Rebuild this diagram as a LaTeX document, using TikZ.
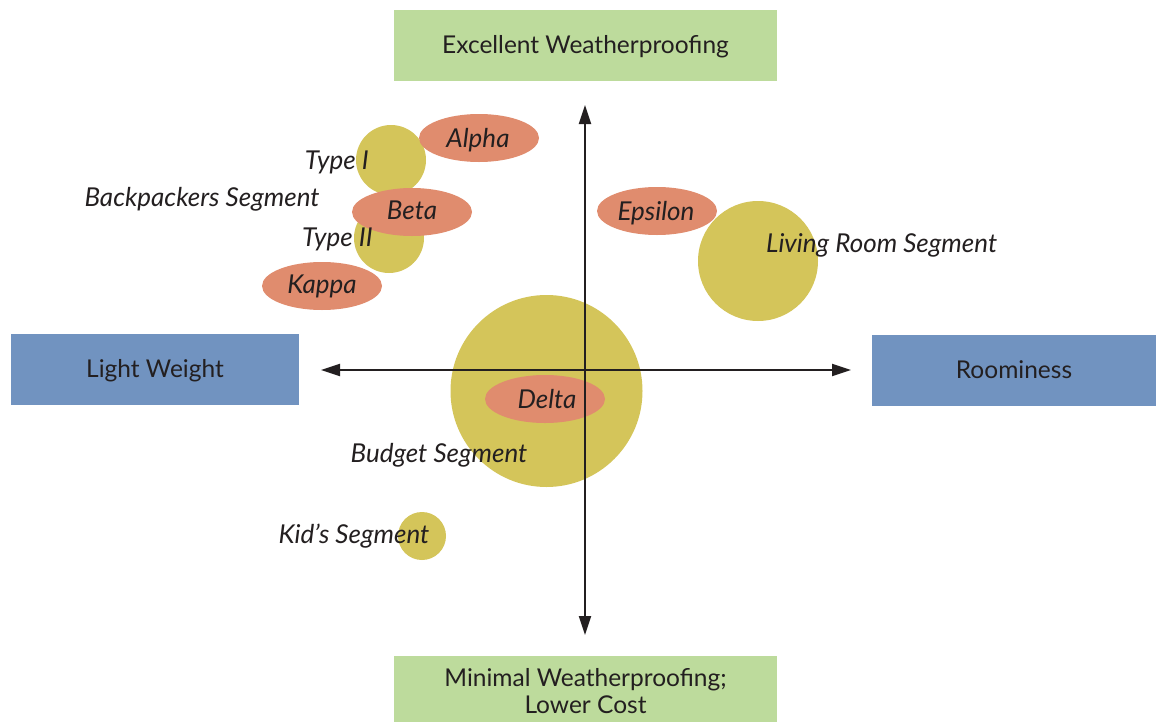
\documentclass[tikz,border=0pt]{standalone}
\usepackage{fontspec}
\setmainfont{Lato}
\usetikzlibrary{arrows.meta,shapes.geometric}
\definecolor{boxgreen}{HTML}{BDDB9C}
\definecolor{boxblue}{HTML}{7193C0}
\definecolor{segyellow}{HTML}{D4C55A}
\definecolor{prodsalmon}{HTML}{E08C6E}
\definecolor{ink}{HTML}{231F20}
\tikzset{
  every node/.style={text=ink},
  boxfont/.style={font=\fontsize{24.5}{27}\selectfont},
  itfont/.style={font=\fontsize{26}{30}\selectfont\itshape},
  greenbox/.style={fill=boxgreen, minimum width=383pt, inner sep=0pt, align=center, boxfont},
  bluebox/.style={fill=boxblue, minimum height=71pt, inner sep=0pt, align=center, boxfont},
  segment/.style={circle, fill=segyellow, inner sep=0pt},
  product/.style={ellipse, fill=prodsalmon, minimum width=120pt, minimum height=48pt, inner sep=0pt},
  prodtext/.style={itfont, inner sep=0pt, anchor=base},
  seglabel/.style={itfont, inner sep=0pt},
  axis/.style={draw=ink, line width=2pt, {Triangle[length=19pt,width=12pt]}-{Triangle[length=19pt,width=12pt]}}
}
\begin{document}
\begin{tikzpicture}[x=1pt,y=-1pt]
\useasboundingbox (0,0) rectangle (1157,723);
% boxes
\node[greenbox, minimum height=71pt] (top) at (585.5,45.5) {};
\node[boxfont, inner sep=0pt, anchor=base] (toptext) at (585.5,53.5) {Excellent Weatherproofing};
\node[greenbox, minimum height=66pt] (bottom) at (585.5,689) {};
\node[boxfont, inner sep=0pt, anchor=base] (bottext1) at (585.5,686) {Minimal Weatherproofing;};
\node[boxfont, inner sep=0pt, anchor=base] (bottext2) at (585.5,713) {Lower Cost};
\node[bluebox, minimum width=288pt] (left) at (155,369.5) {};
\node[boxfont, inner sep=0pt, anchor=base] (lefttext) at (155,377) {Light Weight};
\node[bluebox, minimum width=284pt] (right) at (1014,370.5) {};
\node[boxfont, inner sep=0pt, anchor=base] (righttext) at (1014,378) {Roominess};
% segments
\node[segment, minimum size=70pt] (type1) at (391,160) {};
\node[segment, minimum size=70pt] (type2) at (389,238) {};
\node[segment, minimum size=192pt] (budget) at (546.5,391) {};
\node[segment, minimum size=120pt] (living) at (758,261) {};
\node[segment, minimum size=48pt] (kids) at (422,536) {};
% products
\node[product] (alpha) at (479,138) {};
\node[product] (beta) at (412,212) {};
\node[product] (kappa) at (322,286) {};
\node[product] (delta) at (545,399) {};
\node[product] (epsilon) at (657,211) {};
\node[prodtext] (alphat) at (478,147) {Alpha};
\node[prodtext] (betat) at (412,219) {Beta};
\node[prodtext] (kappat) at (322,293) {Kappa};
\node[prodtext] (deltat) at (547,408) {Delta};
\node[prodtext] (epsilont) at (656,220) {Epsilon};
% axes
\coordinate (ytop) at (585,105);
\coordinate (ybot) at (585,635);
\coordinate (xleft) at (321,370);
\coordinate (xright) at (851,370);
\draw[axis] (ytop) -- (ybot);
\draw[axis] (xleft) -- (xright);
% labels
\node[seglabel, anchor=base east] (l1) at (369,169) {Type I};
\node[seglabel, anchor=base] (lback) at (202,206) {Backpackers Segment};
\node[seglabel, anchor=base east] (l2) at (373,246) {Type II};
\node[seglabel, anchor=base west] (lliv) at (766,252) {Living Room Segment};
\node[seglabel, anchor=base] (lbud) at (439,462) {Budget Segment};
\node[seglabel, anchor=base] (lkid) at (354,543) {Kid’s Segment};
\end{tikzpicture}
\end{document}
